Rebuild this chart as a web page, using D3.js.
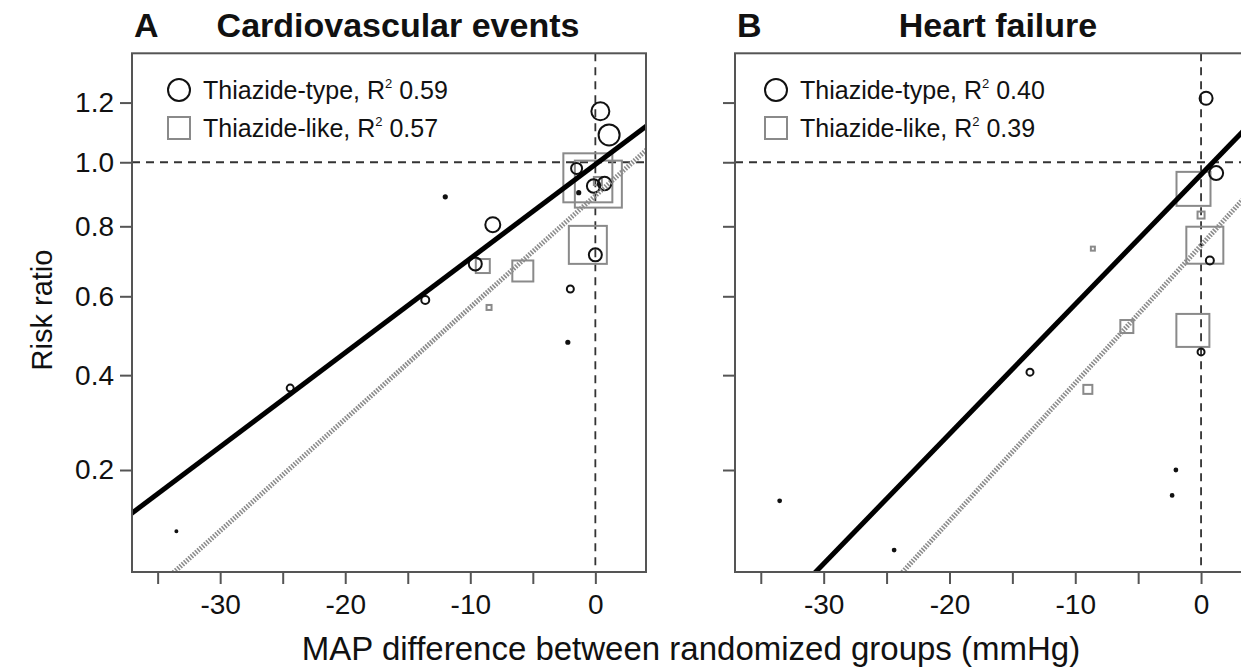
<!DOCTYPE html>
<html><head><meta charset="utf-8">
<script src="https://cdn.jsdelivr.net/npm/d3@7"></script>
<style>
body{margin:0;background:#fff}
svg{display:block}
text{font-family:"Liberation Sans",Arial,Helvetica,sans-serif;fill:#111}
</style>
</head><body>
<svg id="chart" width="1241" height="668"></svg>
<script>
// ---------- data ----------
const xDomain = [-37.05, 4.05];
const yDomain = [0.0466, 1.3745];
const yTicks = [0.2, 0.4, 0.6, 0.8, 1.0, 1.2];
const xTicks = [-35, -30, -25, -20, -15, -10, -5, 0];
const xTickLabels = [-30, -20, -10, 0];

const panelLetters = ["A", "B"];
const panelTitles = ["Cardiovascular events", "Heart failure"];
const typeR2 = ["0.59", "0.40"];
const likeR2 = ["0.57", "0.39"];

// [MAP difference, risk ratio, weight]
const cvTypePoints = [
  [0.4, 1.17, 9], [1.1, 1.09, 10.5], [-1.5, 0.98, 5.5], [-0.14, 0.924, 6.7],
  [0.74, 0.932, 6.7], [0, 0.716, 6.5], [-8.2, 0.805, 7.5], [-9.6, 0.69, 6.5],
  [-2.0, 0.62, 3.5], [-13.6, 0.59, 4], [-24.4, 0.37, 3.5],
  [-12, 0.89, 1.6], [-1.33, 0.903, 1.6], [-2.2, 0.48, 1.6], [-33.5, 0.099, 1]
];
const cvLikePoints = [
  [-0.6, 0.95, 24.5], [0.24, 0.93, 23.5], [0.2, 0.94, 4], [-0.6, 0.745, 19],
  [-9.0, 0.684, 7], [-5.8, 0.67, 10.5], [-8.5, 0.57, 2.5]
];
const hfTypePoints = [
  [0.4, 1.215, 6.5], [1.2, 0.965, 7], [0.7, 0.70, 4], [0, 0.456, 3.5],
  [-13.6, 0.407, 3.5], [0, 0.745, 0.8], [-2.0, 0.20, 1.4], [-2.3, 0.155, 1.4],
  [-33.5, 0.146, 1.4], [-24.4, 0.073, 1.4]
];
const hfLikePoints = [
  [-0.6, 0.915, 17], [0, 0.834, 3.5], [0.3, 0.744, 18.5], [-8.6, 0.734, 2],
  [-5.9, 0.52, 6.5], [-0.65, 0.51, 16.5], [-9.0, 0.367, 4.5]
];
// regression lines: two points each [x, RR]
const cvTypeLine = [[-37, 0.127], [4.08, 1.12]];
const cvLikeLine = [[-33.68, 0.0466], [4.08, 1.04]];
const hfTypeLine = [[-30.64, 0.0466], [3.17, 1.095]];
const hfLikeLine = [[-23.72, 0.0466], [3.17, 0.875]];

// ---------- layout ----------
const svg = d3.select("#chart");
const plotTop = 53.3, plotBottom = 572;
const panels = [
  {left: 132, width: 514, type: cvTypePoints, like: cvLikePoints, tl: cvTypeLine, ll: cvLikeLine, titleX: 398, legX: 179},
  {left: 735, width: 517, type: hfTypePoints, like: hfLikePoints, tl: hfTypeLine, ll: hfLikeLine, titleX: 998, legX: 776}
];
const frameCol = "#555";
const likeCol = "#8a8a8a";

const y = d3.scalePow().exponent(0.65).domain(yDomain).range([plotBottom, plotTop]);
const size = d3.scaleLinear().domain([0, 10]).range([0, 10]);

panels.forEach((p, i) => {
  const x = d3.scaleLinear().domain(xDomain).range([p.left, p.left + p.width]);
  const g = svg.append("g");
  const clipId = "clip" + i;
  svg.append("clipPath").attr("id", clipId).append("rect")
    .attr("x", p.left).attr("y", plotTop).attr("width", p.width).attr("height", plotBottom - plotTop);

  // reference lines
  g.append("line").attr("x1", p.left).attr("x2", p.left + p.width)
    .attr("y1", y(1)).attr("y2", y(1))
    .attr("stroke", "#333").attr("stroke-width", 1.8).attr("stroke-dasharray", "8,6");
  g.append("line").attr("x1", x(0)).attr("x2", x(0))
    .attr("y1", plotTop).attr("y2", plotBottom)
    .attr("stroke", "#333").attr("stroke-width", 1.8).attr("stroke-dasharray", "8,6");

  // squares (thiazide-like)
  g.append("g").selectAll("rect").data(p.like).join("rect")
    .attr("x", d => x(d[0]) - size(d[2]))
    .attr("y", d => y(d[1]) - size(d[2]))
    .attr("width", d => 2 * size(d[2]))
    .attr("height", d => 2 * size(d[2]))
    .attr("fill", "none").attr("stroke", likeCol).attr("stroke-width", 2);

  // circles (thiazide-type)
  g.append("g").selectAll("circle").data(p.type).join("circle")
    .attr("cx", d => x(d[0])).attr("cy", d => y(d[1]))
    .attr("r", d => size(d[2]))
    .attr("fill", d => d[2] < 2 ? "#111" : "none")
    .attr("stroke", "#111").attr("stroke-width", 2);

  // regression lines (straight in plot coordinates, extended and clipped)
  function seg(line) {
    const p1 = [x(line[0][0]), y(line[0][1])], p2 = [x(line[1][0]), y(line[1][1])];
    const dx = p2[0] - p1[0], dy = p2[1] - p1[1];
    return [[p1[0] - 0.3 * dx, p1[1] - 0.3 * dy], [p2[0] + 0.3 * dx, p2[1] + 0.3 * dy]];
  }
  const lg = g.append("g").attr("clip-path", `url(#${clipId})`);
  const sl = seg(p.ll);
  lg.append("line").attr("x1", sl[0][0]).attr("y1", sl[0][1]).attr("x2", sl[1][0]).attr("y2", sl[1][1])
    .attr("stroke", "#8c8c8c").attr("stroke-width", 5).attr("stroke-dasharray", "1.6,1.4");
  const st = seg(p.tl);
  lg.append("line").attr("x1", st[0][0]).attr("y1", st[0][1]).attr("x2", st[1][0]).attr("y2", st[1][1])
    .attr("stroke", "#000").attr("stroke-width", 5);

  // frame
  g.append("rect").attr("x", p.left).attr("y", plotTop).attr("width", p.width).attr("height", plotBottom - plotTop)
    .attr("fill", "none").attr("stroke", frameCol).attr("stroke-width", 2);

  // axes
  const yAxis = g.append("g").attr("transform", `translate(${p.left},0)`)
    .call(d3.axisLeft(y).tickValues(yTicks).tickSize(12).tickFormat(i === 0 ? d3.format(".1f") : ""));
  yAxis.select(".domain").remove();
  yAxis.selectAll("line").attr("stroke", frameCol).attr("stroke-width", 2);
  yAxis.selectAll("text").attr("font-size", 28).attr("x", -18).attr("fill", "#111")
    .attr("font-family", '"Liberation Sans",Arial,sans-serif');

  const xAxis = g.append("g").attr("transform", `translate(0,${plotBottom})`)
    .call(d3.axisBottom(x).tickValues(xTicks).tickSize(12)
      .tickFormat(d => xTickLabels.includes(d) ? d : ""));
  xAxis.select(".domain").remove();
  xAxis.selectAll("line").attr("stroke", frameCol).attr("stroke-width", 2);
  xAxis.selectAll("text").attr("font-size", 28).attr("y", 22).attr("fill", "#111")
    .attr("font-family", '"Liberation Sans",Arial,sans-serif');

  // titles
  svg.append("text").attr("x", p.left + 2).attr("y", 37).attr("font-size", 34).attr("font-weight", "bold")
    .text(panelLetters[i]);
  svg.append("text").attr("x", p.titleX).attr("y", 37).attr("font-size", 34).attr("font-weight", "bold")
    .attr("text-anchor", "middle").text(panelTitles[i]);

  // legend
  const lgd = svg.append("g");
  lgd.append("circle").attr("cx", p.legX).attr("cy", 90).attr("r", 11)
    .attr("fill", "none").attr("stroke", "#111").attr("stroke-width", 2);
  lgd.append("rect").attr("x", p.legX - 11).attr("y", 117).attr("width", 22).attr("height", 22)
    .attr("fill", "none").attr("stroke", likeCol).attr("stroke-width", 2);
  const t1 = lgd.append("text").attr("x", p.legX + 24).attr("y", 99).attr("font-size", 25);
  t1.append("tspan").text("Thiazide-type, R");
  t1.append("tspan").attr("font-size", 13).attr("dy", -11).text("2");
  t1.append("tspan").attr("dy", 11).text(" " + typeR2[i]);
  const t2 = lgd.append("text").attr("x", p.legX + 24).attr("y", 137).attr("font-size", 25);
  t2.append("tspan").text("Thiazide-like, R");
  t2.append("tspan").attr("font-size", 13).attr("dy", -11).text("2");
  t2.append("tspan").attr("dy", 11).text(" " + likeR2[i]);
});

// axis titles
svg.append("text").attr("transform", "translate(52,310) rotate(-90)")
  .attr("text-anchor", "middle").attr("font-size", 29).text("Risk ratio");
svg.append("text").attr("x", 691).attr("y", 660).attr("text-anchor", "middle")
  .attr("font-size", 33).text("MAP difference between randomized groups (mmHg)");
</script>
</body></html>
